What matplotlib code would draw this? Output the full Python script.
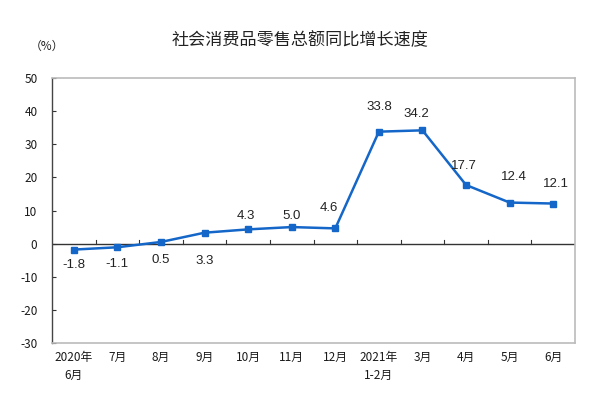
import matplotlib
matplotlib.use("Agg")
import matplotlib.pyplot as plt
import numpy as np

categories = ["2020年\n6月", "7月", "8月", "9月", "10月", "11月", "12月",
              "2021年\n1-2月", "3月", "4月", "5月", "6月"]
values = [-1.8, -1.1, 0.5, 3.3, 4.3, 5.0, 4.6, 33.8, 34.2, 17.7, 12.4, 12.1]
yticks = [-30, -20, -10, 0, 10, 20, 30, 40, 50]

# label offsets (pixels) relative to each point: (dx, dy)
label_offsets = [(0, -15), (0, -17), (0, -18), (0, -28), (-2, 13), (0, 11), (-6, 20),
                 (0, 25), (-6, 16), (-2, 19), (4, 26), (3, 20)]

plt.rcParams['font.family'] = ['Noto Sans CJK SC', 'DejaVu Sans']

W, H = 603, 400
L, R, T, B = 52, 575, 78, 343
fig = plt.figure(figsize=(W/100, H/100), dpi=100)
ax = fig.add_axes([L/W, 1-B/H, (R-L)/W, (B-T)/H])

x = np.arange(len(values)) + 0.5
color = "#1466c8"
ax.plot(x, values, color=color, lw=1.8, marker='s', ms=4.8, zorder=3)

for xi, v, (dx, dy) in zip(x, values, label_offsets):
    ax.annotate(f"{v:.1f}", (xi, v), xytext=(dx, dy), textcoords='offset pixels',
                ha='center', va='center', fontsize=9.5, family='Liberation Sans',
                color='#222222')

ax.set_xlim(0, len(values))
ax.set_ylim(-30, 50)
ax.set_yticks(yticks)
ax.set_yticklabels([str(t) for t in yticks], fontsize=8.5, color='#1a1a1a')
ax.tick_params(axis='y', direction='in', length=3, width=0.8, colors='#333333', pad=10.5)
ax.tick_params(axis='y', labelcolor='#1a1a1a')
ax.set_xticks([])

# zero line and category tick marks
ax.axhline(0, color='#333333', lw=1, zorder=2)
for b in range(1, len(values)):
    ax.plot([b, b], [0, 1.0], color='#333333', lw=0.8, zorder=2)

for side in ['top', 'right', 'bottom']:
    ax.spines[side].set_color('#bbbbbb')
    ax.spines[side].set_linewidth(1.2)
ax.spines['left'].set_color('#444444')
ax.spines['left'].set_linewidth(1.0)

for xi, lab in zip(x, categories):
    ax.text(xi, -32.5, lab, ha='center', va='top', fontsize=8.5, color='#1a1a1a',
            linespacing=1.45, transform=ax.transData)

fig.text(300/W, 1-40/H, "社会消费品零售总额同比增长速度", ha='center', va='center',
         fontsize=12.3, color='#222222')
fig.text(47/W, 1-46/H, "（%）", ha='center', va='center', fontsize=8.5, color='#222222')

fig.savefig("out.png", dpi=100)
